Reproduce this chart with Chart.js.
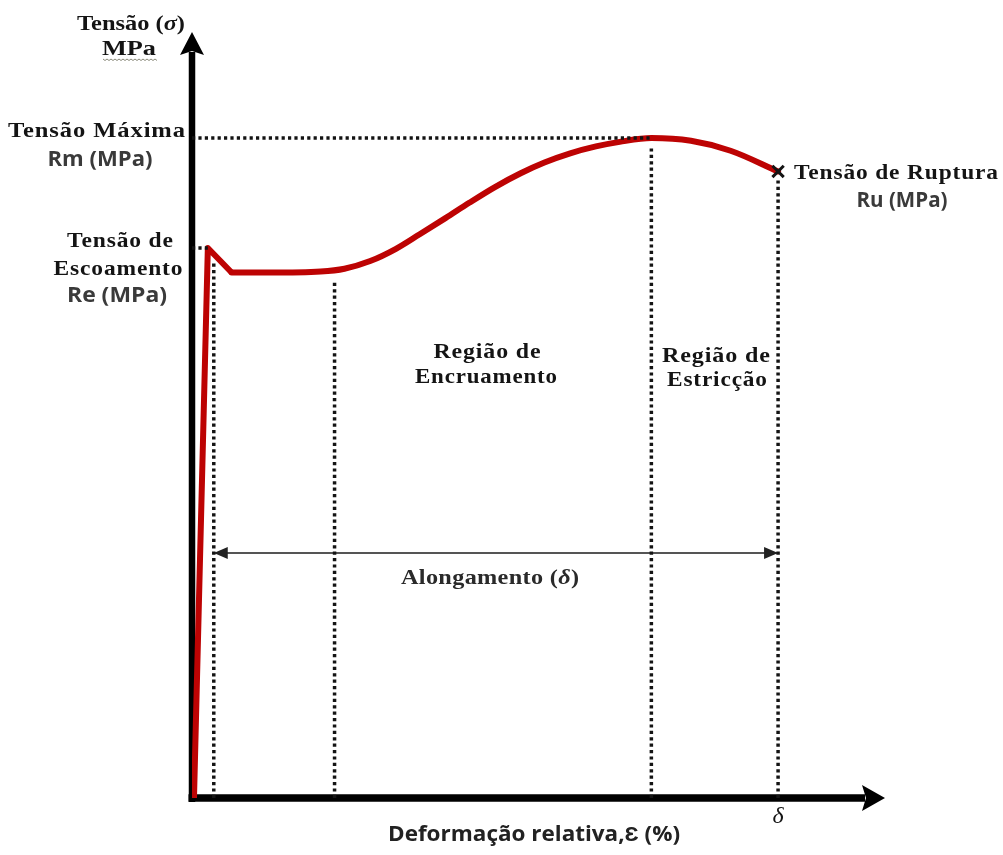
<!DOCTYPE html>
<html>
<head>
<meta charset="utf-8">
<script src="https://cdn.jsdelivr.net/npm/chart.js@4.4.1/dist/chart.umd.min.js"></script>
<style>
  html, body { margin: 0; padding: 0; background: #fff; }
  #c { display: block; }
</style>
</head>
<body>
<canvas id="c" width="1003" height="855"></canvas>
<script>
// Curva tensão-deformação: deformação relativa (%) x tensão (MPa)
const strain = [0.1, 0.8, 2.0, 3.9, 6.5, 7.7, 9.0, 10.3, 11.5, 12.8, 14.0, 15.3, 16.6, 17.8, 19.1, 20.4, 21.6, 23.2, 25.2, 27.2, 29.6];
const stress = [0, 359, 343, 343, 343.7, 345.5, 350.5, 358.5, 368, 378.5, 388.5, 398.8, 407.8, 414.8, 420.8, 425.3, 428.3, 430.8, 429, 422.5, 409];

// pontos característicos (índices na curva)
const yieldIdx = 1;    // Re - tensão de escoamento
const plateauIdx = 2;  // fim da queda do escoamento
const maxIdx = 17;     // Rm - tensão máxima
const ruptIdx = 20;    // Ru - tensão de ruptura

// linhas verticais pontilhadas: posição (%) e altura (MPa)
const guideStrain = [1.1, 7.2, 23.2, 29.6];
const guideTop = [350, 338, 426, 403];

// seta de alongamento (δ)
const elongFrom = 1.1;
const elongTo = 29.6;
const elongLevel = 160;

// limites dos eixos
const X_MAX = 35;
const Y_MAX = 500;

const pts = (xs, ys) => xs.map((x, i) => ({ x, y: ys[i] }));

const RED = '#bd0303';
const INK = '#141414';
const GREY = '#3a3a3a';

const dotted = (data) => ({
  data,
  borderColor: INK,
  borderWidth: 3.5,
  borderDash: [3.2, 3.2],
  borderCapStyle: 'butt',
  pointRadius: 0,
  tension: 0,
  order: 1
});

const datasets = [
  // trecho elástico e pico de escoamento
  {
    data: pts(strain.slice(0, plateauIdx + 1), stress.slice(0, plateauIdx + 1)),
    borderColor: RED, borderWidth: 6, tension: 0, pointRadius: 0,
    borderJoinStyle: 'round', order: 2
  },
  // patamar, encruamento e estricção
  {
    data: pts(strain.slice(plateauIdx), stress.slice(plateauIdx)),
    borderColor: RED, borderWidth: 6, cubicInterpolationMode: 'monotone',
    pointRadius: 0, borderCapStyle: 'round', order: 2
  },
  // Rm até o eixo
  dotted([{ x: 0, y: stress[maxIdx] }, { x: strain[maxIdx], y: stress[maxIdx] }]),
  // Re até o eixo
  dotted([{ x: 0, y: stress[yieldIdx] }, { x: strain[yieldIdx], y: stress[yieldIdx] }]),
  // verticais
  ...guideStrain.map((s, i) => dotted([{ x: s, y: 0 }, { x: s, y: guideTop[i] }])),
  // alongamento
  {
    id: 'elong',
    data: [{ x: elongFrom, y: elongLevel }, { x: elongTo, y: elongLevel }],
    borderColor: '#555', borderWidth: 2, pointRadius: 0, order: 1
  },
  // ponto de ruptura
  {
    data: [{ x: strain[ruptIdx], y: stress[ruptIdx] }],
    showLine: false, pointStyle: 'crossRot', pointRadius: 8,
    borderColor: INK, borderWidth: 3, order: 0
  }
];

// eixos com setas
const axesPlugin = {
  id: 'axesArrows',
  beforeDatasetsDraw(chart) {
    const { ctx, chartArea, scales } = chart;
    const x0 = scales.x.getPixelForValue(0);
    const y0 = scales.y.getPixelForValue(0);
    ctx.save();
    ctx.fillStyle = '#000';
    ctx.strokeStyle = '#000';
    // eixo vertical
    ctx.lineWidth = 6.5;
    ctx.beginPath();
    ctx.moveTo(x0, y0 + 4);
    ctx.lineTo(x0, chartArea.top + 20);
    ctx.stroke();
    ctx.beginPath();
    ctx.moveTo(x0, chartArea.top);
    ctx.lineTo(x0 + 12, chartArea.top + 23);
    ctx.lineTo(x0, chartArea.top + 19);
    ctx.lineTo(x0 - 12, chartArea.top + 23);
    ctx.closePath();
    ctx.fill();
    // eixo horizontal
    ctx.lineWidth = 7.5;
    ctx.beginPath();
    ctx.moveTo(x0 - 3.5, y0);
    ctx.lineTo(chartArea.right - 20, y0);
    ctx.stroke();
    ctx.beginPath();
    ctx.moveTo(chartArea.right, y0);
    ctx.lineTo(chartArea.right - 23, y0 - 13);
    ctx.lineTo(chartArea.right - 19, y0);
    ctx.lineTo(chartArea.right - 23, y0 + 13);
    ctx.closePath();
    ctx.fill();
    ctx.restore();
  },
  afterDatasetsDraw(chart) {
    // pontas da seta de alongamento
    const { ctx } = chart;
    const idx = chart.data.datasets.findIndex(d => d.id === 'elong');
    const p = chart.getDatasetMeta(idx).data;
    const a = p[0], b = p[1];
    ctx.save();
    ctx.fillStyle = '#222';
    ctx.beginPath();
    ctx.moveTo(a.x, a.y);
    ctx.lineTo(a.x + 14, a.y - 6);
    ctx.lineTo(a.x + 14, a.y + 6);
    ctx.closePath();
    ctx.fill();
    ctx.beginPath();
    ctx.moveTo(b.x, b.y);
    ctx.lineTo(b.x - 14, b.y - 6);
    ctx.lineTo(b.x - 14, b.y + 6);
    ctx.closePath();
    ctx.fill();
    ctx.restore();
  }
};

// textos
const SERIF = 'bold 22px "Liberation Serif", "Times New Roman", serif';
const SERIF_I = 'italic bold 22px "Liberation Serif", "Times New Roman", serif';
const SANS = 'bold 21px "Open Sans", "Liberation Sans", sans-serif';

function runsWidth(ctx, runs, sp) {
  let w = 0;
  for (const r of runs) {
    ctx.font = r.f;
    ctx.letterSpacing = sp + 'px';
    w += ctx.measureText(r.t).width;
  }
  return w - sp;
}

// desenha o texto (em trechos de fontes diferentes) ajustado à largura pedida
function label(ctx, runs, x, y, opt) {
  ctx.save();
  ctx.fillStyle = opt.color || INK;
  ctx.textAlign = 'left';
  ctx.textBaseline = 'alphabetic';
  const sp = opt.spacing ?? 0.8;
  const w0 = runsWidth(ctx, runs, sp);
  const w = opt.width || w0;
  const k = w / w0;
  const left = opt.align === 'left' ? x : opt.align === 'right' ? x - w : x - w / 2;
  ctx.translate(left, y);
  ctx.scale(k, 1);
  let cx = 0;
  for (const r of runs) {
    ctx.font = r.f;
    ctx.letterSpacing = sp + 'px';
    ctx.fillText(r.t, cx, 0);
    cx += ctx.measureText(r.t).width;
  }
  ctx.restore();
}

const S = (t) => ({ t, f: SERIF });
const SI = (t) => ({ t, f: SERIF_I });
const N = (t) => ({ t, f: SANS });

const labelsPlugin = {
  id: 'labels',
  afterDraw(chart) {
    const ctx = chart.ctx;
    label(ctx, [S('Tensão ('), SI('σ'), S(')')], 131, 30, { width: 108, spacing: 0 });
    label(ctx, [S('MPa')], 129, 55, { width: 54, spacing: 0 });
    // sublinhado ondulado
    ctx.save();
    ctx.strokeStyle = '#8a8a7a';
    ctx.lineWidth = 1;
    ctx.beginPath();
    for (let i = 0; i <= 27; i++) {
      const px = 103 + i * 2;
      const py = 59 + (i % 2 ? 1.5 : 0);
      i ? ctx.lineTo(px, py) : ctx.moveTo(px, py);
    }
    ctx.stroke();
    ctx.restore();

    label(ctx, [S('Tensão Máxima')], 8, 137, { width: 177, align: 'left' });
    label(ctx, [N('Rm (MPa)')], 100, 166, { width: 105, color: GREY, spacing: 0 });

    label(ctx, [S('Tensão de')], 120, 247, { width: 106 });
    label(ctx, [S('Escoamento')], 118, 275, { width: 129 });
    label(ctx, [N('Re (MPa)')], 117, 302, { width: 100, color: GREY, spacing: 0 });

    label(ctx, [S('Tensão de Ruptura')], 794, 179, { width: 204, align: 'left' });
    label(ctx, [N('Ru (MPa)')], 902, 207, { width: 91, color: GREY, spacing: 0 });

    label(ctx, [S('Região de')], 487, 358, { width: 107 });
    label(ctx, [S('Encruamento')], 486, 383, { width: 142 });

    label(ctx, [S('Região de')], 716, 362, { width: 108 });
    label(ctx, [S('Estricção')], 717, 386, { width: 100 });

    label(ctx, [S('Alongamento ('), SI('δ'), S(')')], 490, 584, { width: 178, color: '#2a2a2a', spacing: 0.3 });

    label(ctx, [{ t: 'δ', f: 'italic 24px "Liberation Serif", serif' }], 778, 823, { spacing: 0 });
    label(ctx, [N('Deformação relativa,Ɛ (%)')], 534, 841, { width: 292, color: '#222', spacing: 0 });
  }
};

new Chart(document.getElementById('c'), {
  type: 'line',
  data: { datasets },
  options: {
    responsive: false,
    animation: false,
    layout: { padding: { left: 192, right: 118, top: 32, bottom: 57 } },
    scales: {
      x: { type: 'linear', min: 0, max: X_MAX, display: false },
      y: { type: 'linear', min: 0, max: Y_MAX, display: false }
    },
    plugins: { legend: { display: false }, tooltip: { enabled: false } },
    elements: { point: { radius: 0 } }
  },
  plugins: [axesPlugin, labelsPlugin]
});
</script>
</body>
</html>
